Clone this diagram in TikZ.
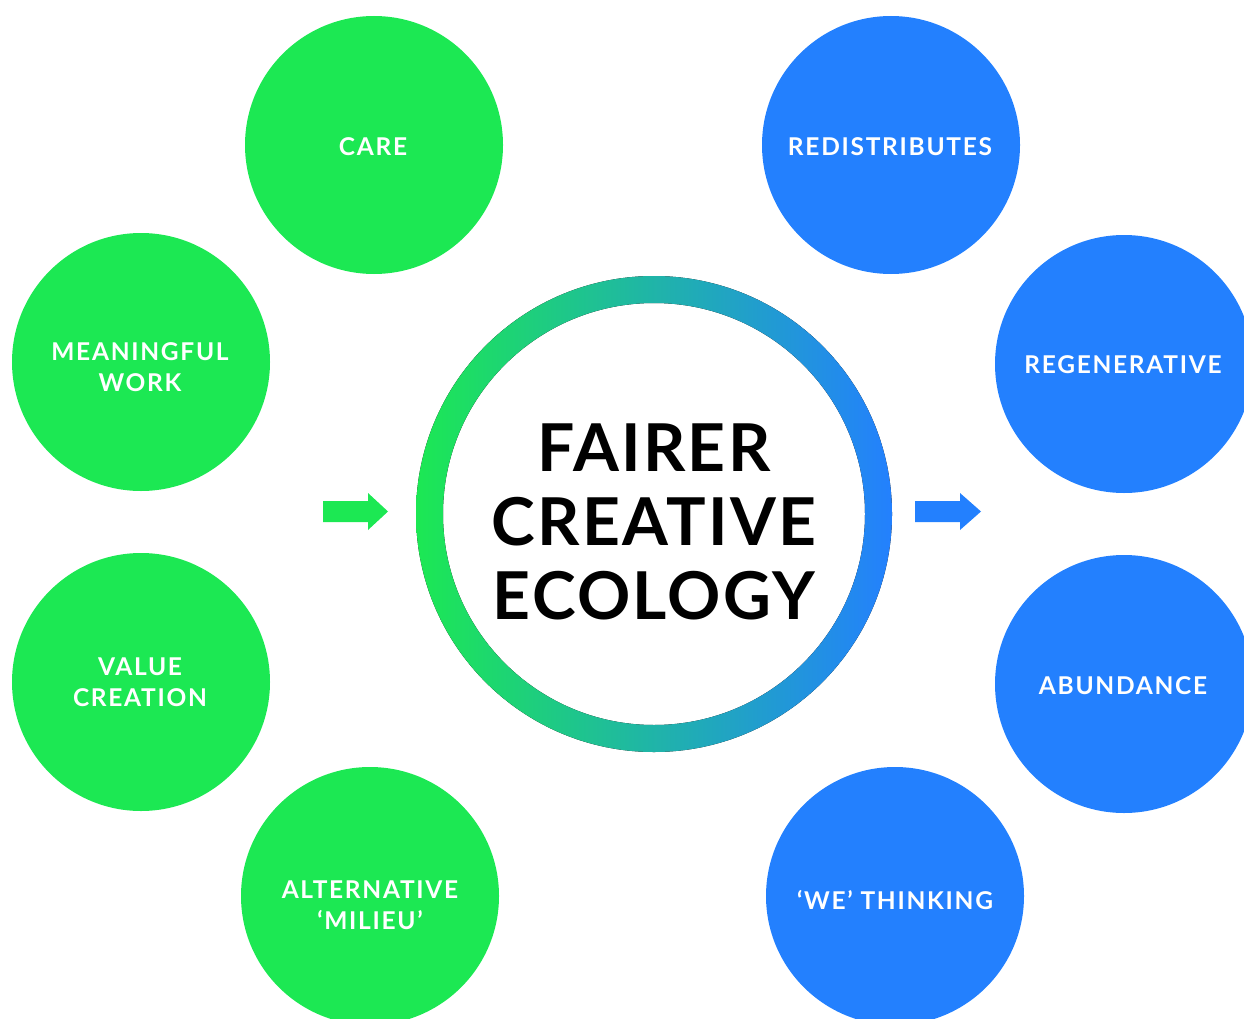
\documentclass[tikz,border=0pt]{standalone}
\usepackage{fontspec}
\setmainfont{Lato}
\newfontfamily\labelfont[LetterSpace=7]{Lato}
\newfontfamily\titlefont[LetterSpace=3.5]{Lato}
\definecolor{leafgreen}{HTML}{1CE853}
\definecolor{skyblue}{HTML}{2380FE}
\tikzset{
  bubble/.style={circle, minimum size=258pt, inner sep=0pt},
  greenbubble/.style={bubble, fill=leafgreen},
  bluebubble/.style={bubble, fill=skyblue},
  label/.style={text=white, align=center, font=\labelfont\bfseries\fontsize{24.5}{31}\selectfont},
  title/.style={text=black, align=center, font=\titlefont\bfseries\fontsize{66}{74}\selectfont},
}
\begin{document}
\begin{tikzpicture}[x=1pt,y=-1pt]
  \useasboundingbox (0,0) rectangle (1244,1019);
  \clip (0,0) rectangle (1244,1019);

  % outer circles, green on the left, blue on the right
  \node[greenbubble] (care) at (374,145) {};
  \node[greenbubble] (work) at (141,362) {};
  \node[greenbubble] (value) at (141,682) {};
  \node[greenbubble] (milieu) at (370,896) {};
  \node[bluebubble] (redis) at (891,145) {};
  \node[bluebubble] (regen) at (1124,364) {};
  \node[bluebubble] (abund) at (1124,684) {};
  \node[bluebubble] (we) at (895,896) {};

  \node[label] at (373,147) {CARE};
  \node[label] at (140,367) {MEANINGFUL\\WORK};
  \node[label] at (140,682) {VALUE\\CREATION};
  \node[label] at (370,905) {ALTERNATIVE\\‘MILIEU’};
  \node[label] at (890,147) {REDISTRIBUTES};
  \node[label] at (1123,365) {REGENERATIVE};
  \node[label] at (1123,686) {ABUNDANCE};
  \node[label] at (895,900) {‘WE’ THINKING};

  % central ring with a green-to-blue gradient
  \fill[left color=leafgreen, right color=skyblue, even odd rule]
    (654,514) circle[radius=238pt] (654,514) circle[radius=211pt];
  \node[title] (core) at (654,522) {FAIRER\\CREATIVE\\ECOLOGY};

  % block arrows towards and away from the centre
  \fill[leafgreen] (323,501) -- (368,501) -- (368,493) -- (388,511.5)
    -- (368,530) -- (368,522) -- (323,522) -- cycle;
  \fill[skyblue] (915,501) -- (960,501) -- (960,493) -- (981,511.5)
    -- (960,530) -- (960,522) -- (915,522) -- cycle;
\end{tikzpicture}
\end{document}
